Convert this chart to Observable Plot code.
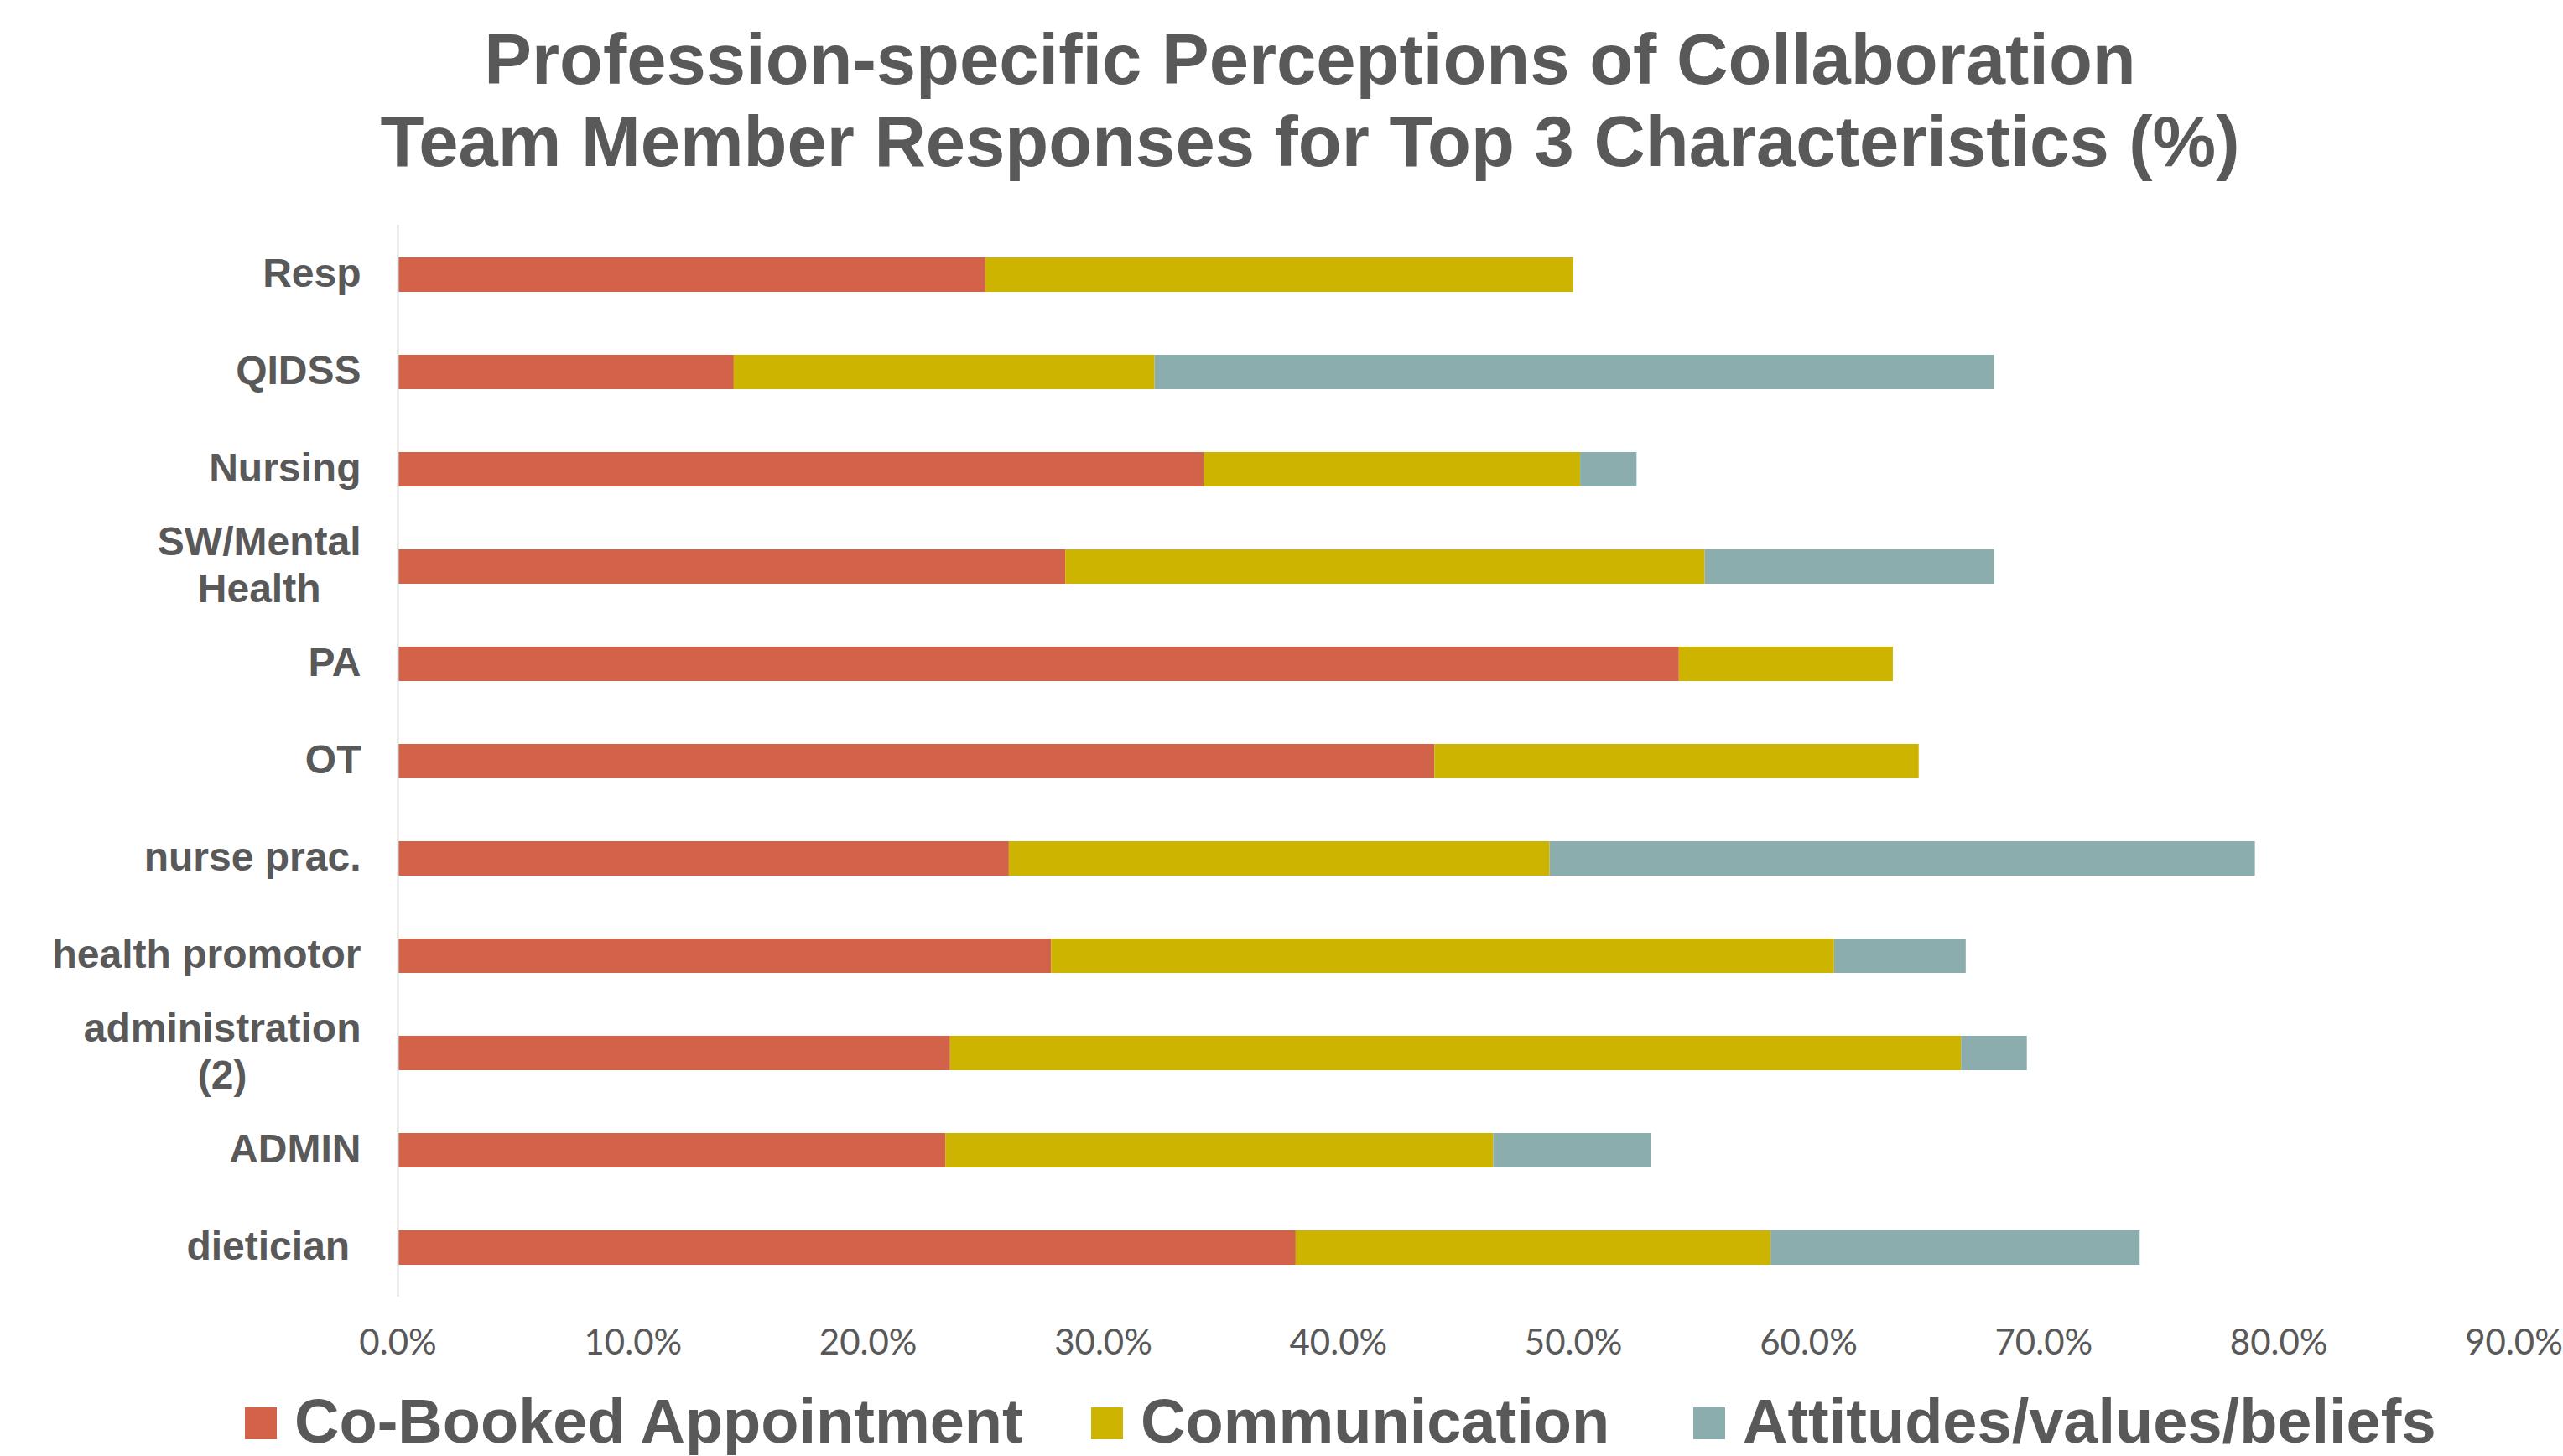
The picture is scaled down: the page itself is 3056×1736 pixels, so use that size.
<!DOCTYPE html>
<html><head><meta charset="utf-8">
<script src="https://cdn.jsdelivr.net/npm/d3@7"></script>
<script src="https://cdn.jsdelivr.net/npm/@observablehq/plot@0.6"></script>
<style>
html,body{margin:0;padding:0;background:#fff;}
#page{position:relative;width:3056px;height:1736px;overflow:hidden;font-family:"Liberation Sans",Arial,sans-serif;color:#595959;background:#fff;}
#title{position:absolute;left:34px;width:3056px;top:22px;text-align:center;font-weight:bold;font-size:85px;line-height:98px;}
#chart{position:absolute;left:0;top:230px;}
.legend-item{position:absolute;top:1658px;display:flex;align-items:center;font-weight:bold;font-size:74px;line-height:74px;white-space:nowrap;}
.sw{width:38px;height:38px;margin-right:21px;margin-top:3px;flex:none;}
</style></head>
<body>
<div id="page">
  <div id="title">Profession-specific Perceptions of Collaboration<br>Team Member Responses for Top 3 Characteristics (%)</div>
  <div id="chart"></div>
  <div id="legend"></div>
</div>
<script>
const categories = ["Resp", "QIDSS", "Nursing", "SW/Mental\nHealth", "PA", "OT", "nurse prac.", "health promotor", "administration\n(2)", "ADMIN", "dietician "];
const seriesNames = ["Co-Booked Appointment", "Communication", "Attitudes/values/beliefs"];
const seriesColors = ["#D26349", "#CCB400", "#8CADAE"];
const coBooked      = [25.0, 14.3, 34.3, 28.4, 54.5, 44.1, 26.0, 27.8, 23.5, 23.3, 38.2];
const communication = [25.0, 17.9, 16.0, 27.2,  9.1, 20.6, 23.0, 33.3, 43.0, 23.3, 20.2];
const attitudes     = [ 0.0, 35.7,  2.4, 12.3,  0.0,  0.0, 30.0,  5.6,  2.8,  6.7, 15.7];
const xTicks = [0, 10, 20, 30, 40, 50, 60, 70, 80, 90];

const seriesValues = [coBooked, communication, attitudes];
const data = [];
seriesNames.forEach((s, si) => {
  categories.forEach((c, ci) => {
    data.push({category: c, series: s, value: seriesValues[si][ci]});
  });
});

const chart = Plot.plot({
  width: 3056,
  height: 1420,
  marginLeft: 474,
  marginRight: 59,
  marginTop: 38,
  marginBottom: 104,
  style: {fontFamily: '"Liberation Sans", Arial, sans-serif', color: "#595959", background: "#fff"},
  x: {domain: [0, 90], ticks: xTicks},
  y: {domain: categories, paddingInner: 0.65, paddingOuter: 0.325},
  color: {domain: seriesNames, range: seriesColors},
  marks: [
    Plot.barX(data, {x: "value", y: "category", fill: "series"}),
    Plot.ruleX([0], {stroke: "#d9d9d9", strokeWidth: 2}),
    Plot.axisX({ticks: xTicks, tickFormat: d => d.toFixed(1) + "%", tickSize: 0, tickPadding: 39, fontSize: 42, fontFamily: "Lato, 'Liberation Sans', sans-serif", fill: "#595959", label: null}),
    Plot.axisY({tickSize: 0, tickPadding: 44, fontSize: 48, fontWeight: "bold", lineHeight: 1.17, dy: -4, fill: "#595959", label: null})
  ]
});
document.getElementById("chart").appendChild(chart);

// center multi-line category labels within their right-aligned block
chart.querySelectorAll('g[aria-label="y-axis tick label"] text').forEach(t => {
  t.style.whiteSpace = "pre";
  const spans = t.querySelectorAll("tspan");
  if (spans.length > 1) {
    let maxW = 0;
    spans.forEach(s => { maxW = Math.max(maxW, s.getComputedTextLength()); });
    t.setAttribute("text-anchor", "middle");
    spans.forEach(s => s.setAttribute("x", -maxW / 2));
  }
});

const legendLefts = [292, 1301, 2019];
const legend = document.getElementById("legend");
seriesNames.forEach((s, i) => {
  const item = document.createElement("div");
  item.className = "legend-item";
  item.style.left = legendLefts[i] + "px";
  const sw = document.createElement("div");
  sw.className = "sw";
  sw.style.background = seriesColors[i];
  const label = document.createElement("span");
  label.textContent = s;
  item.appendChild(sw);
  item.appendChild(label);
  legend.appendChild(item);
});
</script>
</body></html>
